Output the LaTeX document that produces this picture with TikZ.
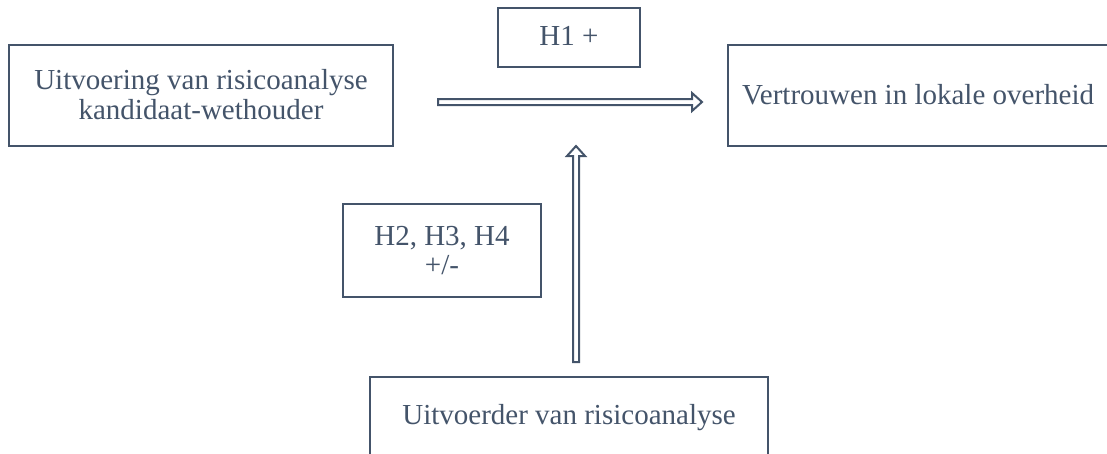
\documentclass[tikz,border=0pt]{standalone}
\usepackage{fontspec}
\setmainfont{Liberation Serif}
\definecolor{ink}{HTML}{44546A}
\tikzset{
  box/.style={draw=ink, line width=2pt, rectangle, inner sep=0pt, fill=white},
  lbl/.style={text=ink, font=\fontsize{29}{29}\selectfont, anchor=base, inner sep=0pt},
  blockarrow/.style={draw=ink, line width=2pt, fill=white, line join=miter},
}
\begin{document}
\begin{tikzpicture}[x=1pt,y=-1pt]
\useasboundingbox (0,0) rectangle (1107,453);
\clip (0,0) rectangle (1107,453);
% boxes
\node[box, minimum width=384pt, minimum height=101pt] (lbox) at (201,95.5) {};
\node[box, minimum width=400pt, minimum height=101pt] (rbox) at (928,95.5) {};
\node[box, minimum width=142pt, minimum height=59pt] (h1box) at (569,37.5) {};
\node[box, minimum width=198pt, minimum height=93pt] (h2box) at (442,250.5) {};
\node[box, minimum width=398pt, minimum height=110pt] (bbox) at (569,432) {};
% texts
\node[lbl] (lt1) at (201,89) {Uitvoering van risicoanalyse};
\node[lbl] (lt2) at (201,119) {kandidaat-wethouder};
\node[lbl, anchor=base west] (rt) at (742,104) {Vertrouwen in lokale overheid};
\node[lbl] (h1t) at (569,45) {H1 +};
\node[lbl] (h2t1) at (442,245) {H2, H3, H4};
\node[lbl] (h2t2) at (442,274) {+/-};
\node[lbl] (bt) at (569,424) {Uitvoerder van risicoanalyse};
% connector ends
\coordinate (hs) at ([xshift=44pt]lbox.east |- 0,102);
\coordinate (he) at ([xshift=-25pt]rbox.west |- 0,102);
\coordinate (vs) at ([yshift=14pt]bbox.north -| 576,0);
\coordinate (ve) at ([yshift=1pt]rbox.south -| 576,0);
% arrows (outlined block arrows)
\draw[blockarrow] ([yshift=3pt]hs) -- ([xshift=-10pt,yshift=3pt]he) -- ([xshift=-10pt,yshift=9pt]he) -- (he)
  -- ([xshift=-10pt,yshift=-9pt]he) -- ([xshift=-10pt,yshift=-3pt]he) -- ([yshift=-3pt]hs) -- cycle;
\draw[blockarrow] ([xshift=-3pt]vs) -- ([xshift=-3pt,yshift=-10pt]ve) -- ([xshift=-9pt,yshift=-10pt]ve) -- (ve)
  -- ([xshift=9pt,yshift=-10pt]ve) -- ([xshift=3pt,yshift=-10pt]ve) -- ([xshift=3pt]vs) -- cycle;
\end{tikzpicture}
\end{document}
